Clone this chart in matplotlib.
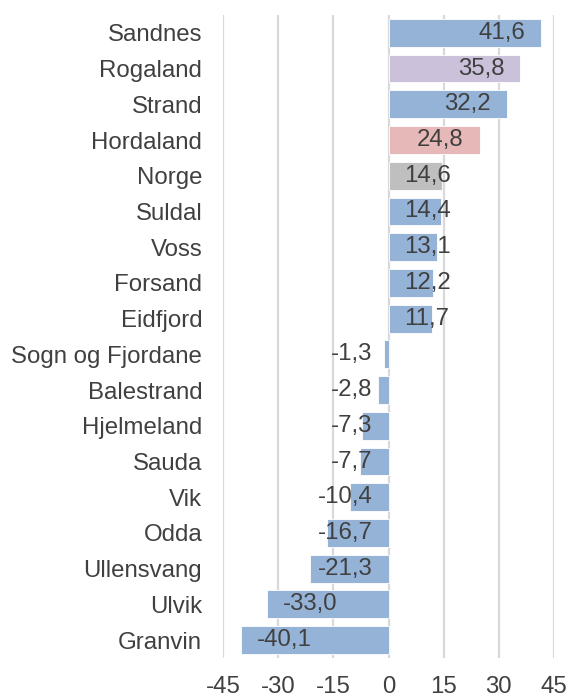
import numpy as np
import matplotlib.pyplot as plt

# data
kommuner = ['Sandnes', 'Rogaland', 'Strand', 'Hordaland', 'Norge', 'Suldal', 'Voss',
            'Forsand', 'Eidfjord', 'Sogn og Fjordane', 'Balestrand', 'Hjelmeland',
            'Sauda', 'Vik', 'Odda', 'Ullensvang', 'Ulvik', 'Granvin']
endring = [41.6, 35.8, 32.2, 24.8, 14.6, 14.4, 13.1, 12.2, 11.7, -1.3, -2.8, -7.3,
           -7.7, -10.4, -16.7, -21.3, -33.0, -40.1]
xticks = [-45, -30, -15, 0, 15, 30, 45]

blue = '#95B3D7'
special = {'Rogaland': '#CCC1DA', 'Hordaland': '#E6B9B8', 'Norge': '#BFBFBF'}
colors = [special.get(k, blue) for k in kommuner]
txt = '#404040'
fs = 17.3

plt.rcParams['font.family'] = ['Liberation Sans', 'DejaVu Sans']

fig = plt.figure(figsize=(5.69, 6.97), dpi=100)
ax = fig.add_axes([0.392, 0.056, 0.5816, 0.9225])

y = np.arange(len(kommuner))
ax.barh(y, endring, height=0.78, color=colors, edgecolor='white', linewidth=0.6, zorder=2)

ax.set_xlim(-45, 45)
ax.set_ylim(len(kommuner) - 0.5, -0.5)
ax.set_xticks(xticks)
ax.set_xticklabels([str(t) for t in xticks], fontsize=fs, color=txt)
ax.set_yticks(y)
ax.set_yticklabels(kommuner, fontsize=fs, color=txt)
ax.tick_params(axis='both', length=0)
ax.tick_params(axis='x', pad=13)
ax.tick_params(axis='y', pad=15)
for s in ax.spines.values():
    s.set_visible(False)
ax.grid(axis='x', color='#D9D9D9', linewidth=1.6, zorder=0)
ax.set_axisbelow(True)

# labels: inside end, or pushed to near zero when bar too short
fig.canvas.draw()
renderer = fig.canvas.get_renderer()
pad = 16
for yi, v in zip(y, endring):
    lab = f"{v:.1f}".replace('.', ',')
    t = ax.annotate(lab, (v, yi), xytext=(0, 0), textcoords='offset pixels',
                    ha='right', va='center', fontsize=fs, color=txt, zorder=3)
    w = t.get_window_extent(renderer).width
    barpx = abs(ax.transData.transform((v, 0))[0] - ax.transData.transform((0, 0))[0])
    if barpx - pad - w >= pad:
        if v > 0:
            t.set_ha('right'); t.xyann = (-pad, 0)
        else:
            t.set_ha('left'); t.xyann = (pad, 0)
    else:
        t.xy = (0, yi)
        if v > 0:
            t.set_ha('left'); t.xyann = (pad, 0)
        else:
            t.set_ha('right'); t.xyann = (-pad, 0)

fig.savefig('out.png', dpi=100)
